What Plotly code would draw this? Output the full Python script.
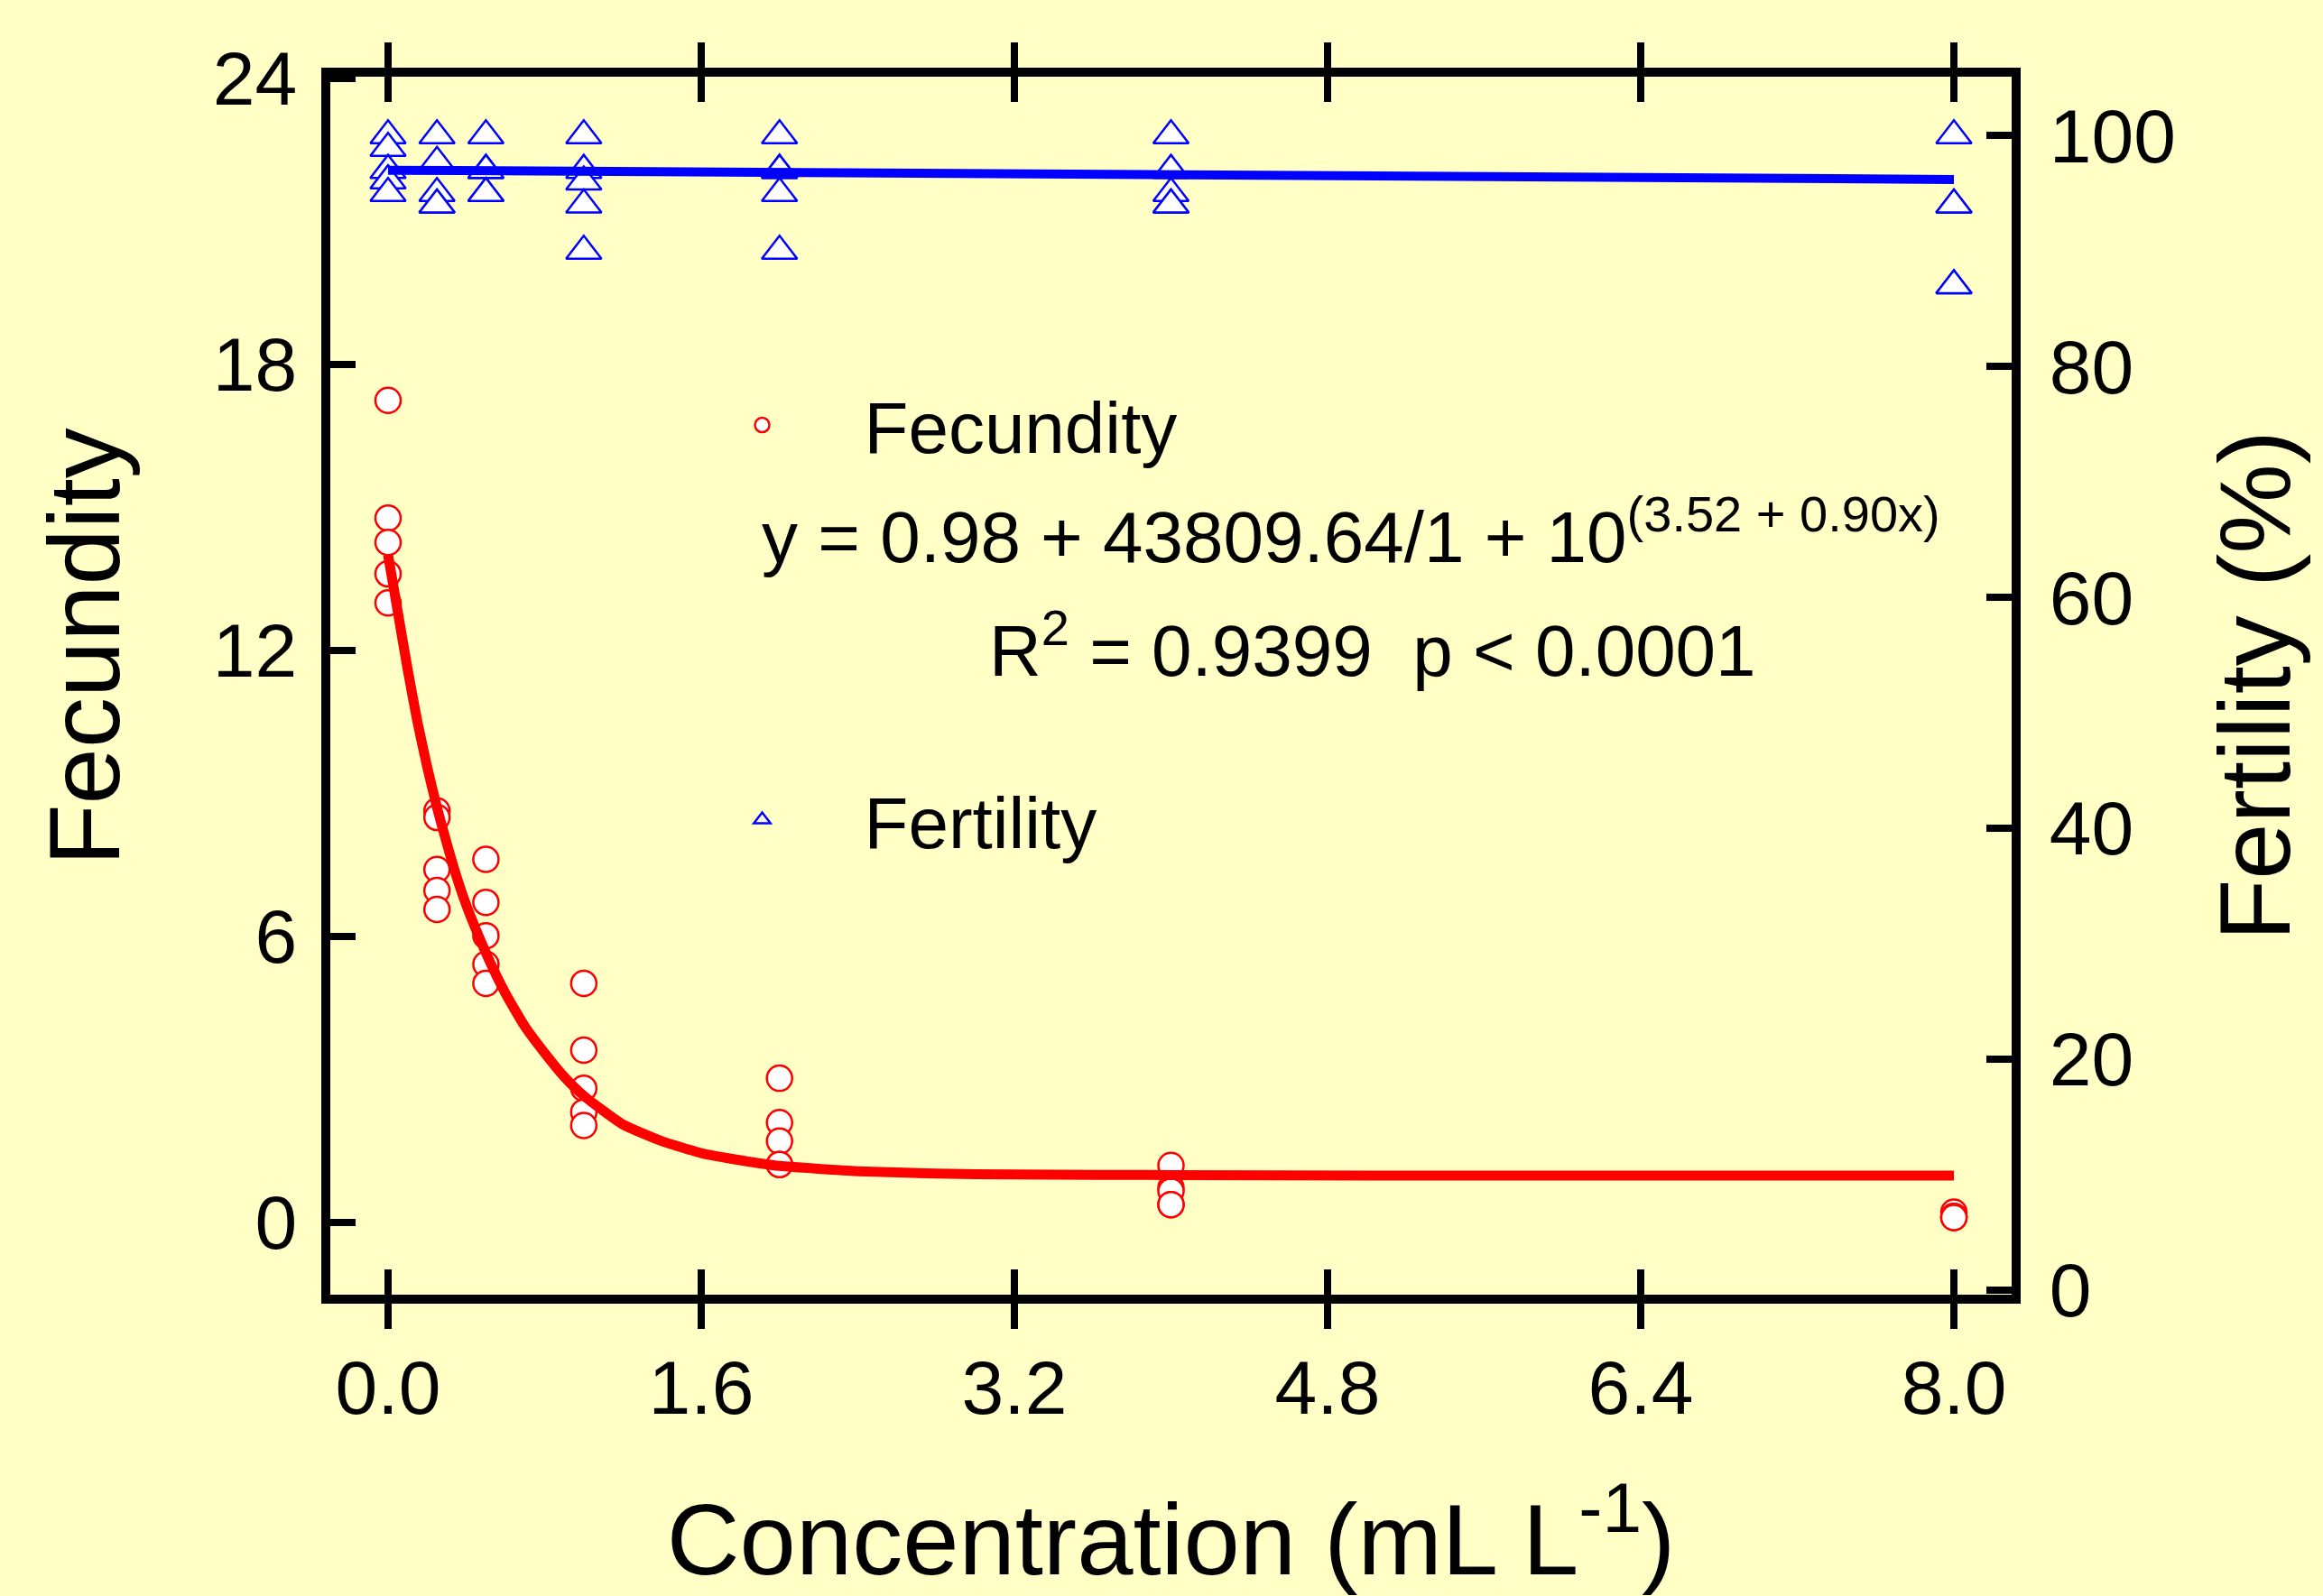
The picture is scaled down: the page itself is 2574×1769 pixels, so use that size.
import plotly.graph_objects as go

# ---------------- data ----------------
concentration = [0.0, 0.25, 0.5, 1.0, 2.0, 4.0, 8.0]

fec_c000 = [17.24, 14.77, 14.26, 13.60, 12.99]
fec_c025 = [8.63, 8.49, 7.40, 6.96, 6.56]
fec_c050 = [7.61, 6.71, 6.01, 5.41, 5.01]
fec_c100 = [5.01, 3.61, 2.81, 2.31, 2.03]
fec_c200 = [3.02, 2.09, 1.70, 1.21, 1.21]
fec_c400 = [1.19, 0.72, 0.65, 0.37, 0.37]
fec_c800 = [0.21, 0.12, 0.12, 0.10, 0.10]

fer_c000 = [100.0, 98.9, 97.0, 96.1, 95.0]
fer_c025 = [100.0, 97.7, 95.0, 94.0, 94.0]
fer_c050 = [100.0, 97.0, 97.0, 95.0, 95.0]
fer_c100 = [100.0, 97.0, 96.0, 94.0, 90.0]
fer_c200 = [100.0, 97.0, 97.0, 95.0, 90.0]
fer_c400 = [100.0, 97.0, 95.0, 94.0, 94.0]
fer_c800 = [100.0, 94.0, 94.0, 87.0, 87.0]

# fitted fecundity curve
fec_fit_x = [0.0, 0.05, 0.1, 0.15, 0.2, 0.25, 0.3, 0.35, 0.4, 0.5, 0.6, 0.7,
             0.8, 0.9, 1.0, 1.2, 1.4, 1.6, 1.8, 2.0, 2.4, 2.8, 3.2, 4.0,
             5.0, 6.0, 7.0, 8.0]
fec_fit_y = [14.0, 12.8, 11.6, 10.5, 9.55, 8.7, 7.95, 7.25, 6.65, 5.65, 4.8, 4.1,
             3.55, 3.05, 2.65, 2.05, 1.7, 1.45, 1.3, 1.18, 1.07, 1.02, 1.0, 0.99,
             0.98, 0.98, 0.98, 0.98]

# fitted fertility line
fer_fit_x = [0.0, 8.0]
fer_fit_y = [97.0, 96.2]

x_ticks = [0.0, 1.6, 3.2, 4.8, 6.4, 8.0]
y1_ticks = [0, 6, 12, 18, 24]
y2_ticks = [0, 20, 40, 60, 80, 100]

# ---------------- build ----------------
fec_groups = [fec_c000, fec_c025, fec_c050, fec_c100, fec_c200, fec_c400, fec_c800]
fer_groups = [fer_c000, fer_c025, fer_c050, fer_c100, fer_c200, fer_c400, fer_c800]
fec_x, fec_y, fer_x, fer_y = [], [], [], []
for c, g in zip(concentration, fec_groups):
    fec_x += [c] * len(g)
    fec_y += g
for c, g in zip(concentration, fer_groups):
    fer_x += [c] * len(g)
    fer_y += g

FONT = "Arial, Liberation Sans, sans-serif"
BG = "#FFFFC6"

fig = go.Figure()

fig.add_trace(go.Scatter(
    x=fec_x, y=fec_y, mode="markers", name="Fecundity", yaxis="y",
    marker=dict(symbol="circle", size=28, color="white",
                line=dict(color="#FF0000", width=2.5)),
    legend="legend"))
fig.add_trace(go.Scatter(
    x=fer_x, y=fer_y, mode="markers", name="Fertility", yaxis="y2",
    marker=dict(symbol="triangle-up", size=34, color="white",
                line=dict(color="#0000FF", width=2.5)),
    legend="legend2"))
fig.add_trace(go.Scatter(
    x=fec_fit_x, y=fec_fit_y, mode="lines", yaxis="y", showlegend=False,
    line=dict(color="#FF0000", width=11, shape="spline", smoothing=0.5)))
fig.add_trace(go.Scatter(
    x=fer_fit_x, y=fer_fit_y, mode="lines", yaxis="y2", showlegend=False,
    line=dict(color="#0000FF", width=10)))

axis_common = dict(showline=True, linecolor="black", linewidth=10,
                   ticks="inside", tickcolor="black", tickwidth=8, ticklen=28,
                   showgrid=False, zeroline=False, automargin=False,
                   tickfont=dict(family=FONT, size=84, color="black"))

fig.update_layout(
    width=2574, height=1769,
    margin=dict(l=366, r=345, t=85, b=334, autoexpand=False),
    paper_bgcolor=BG, plot_bgcolor=BG,
    font=dict(family=FONT, color="black"),
    xaxis=dict(range=[-0.295, 8.295], tickvals=x_ticks, tickformat=".1f",
               mirror="allticks", ticklabelstandoff=21,
               title=dict(text="Concentration (mL L<sup>-1</sup>)",
                          font=dict(family=FONT, size=112), standoff=96),
               **axis_common),
    yaxis=dict(range=[-1.52, 24.03], tickvals=y1_ticks, ticklabelstandoff=10,
               **axis_common),
    yaxis2=dict(range=[-0.4, 105.1], tickvals=y2_ticks, overlaying="y",
                side="right", ticklabelstandoff=15,
                title=dict(text="Fertility (%)", font=dict(family=FONT, size=112),
                           standoff=53),
                **axis_common),
    legend=dict(x=0.1962, y=0.714, xanchor="left", yanchor="middle",
                bgcolor="rgba(0,0,0,0)", itemwidth=216,
                font=dict(family=FONT, size=80, color="black")),
    legend2=dict(x=0.1962, y=0.39, xanchor="left", yanchor="middle",
                 bgcolor="rgba(0,0,0,0)", itemwidth=216,
                 font=dict(family=FONT, size=80, color="black")),
    annotations=[
        dict(x=-0.146, y=0.532, xref="paper", yref="paper",
             xanchor="center", yanchor="middle", textangle=-90, showarrow=False,
             text="Fecundity", font=dict(family=FONT, size=112, color="black")),
        dict(x=1.90, y=14.5, xref="x", yref="y", xanchor="left", yanchor="middle",
             showarrow=False,
             text="y = 0.98 + 43809.64/1 + 10<sup>(3.52 + 0.90x)</sup>",
             font=dict(family=FONT, size=80, color="black")),
        dict(x=5.03, y=12.1, xref="x", yref="y", xanchor="center", yanchor="middle",
             showarrow=False,
             text="R<sup>2</sup> = 0.9399  p < 0.0001",
             font=dict(family=FONT, size=80, color="black")),
    ],
)

fig.write_html("out.html",
               config={"displayModeBar": False},
               post_script="document.body.style.margin='0px';"
                           "document.body.style.background='#FFFFC6';")
